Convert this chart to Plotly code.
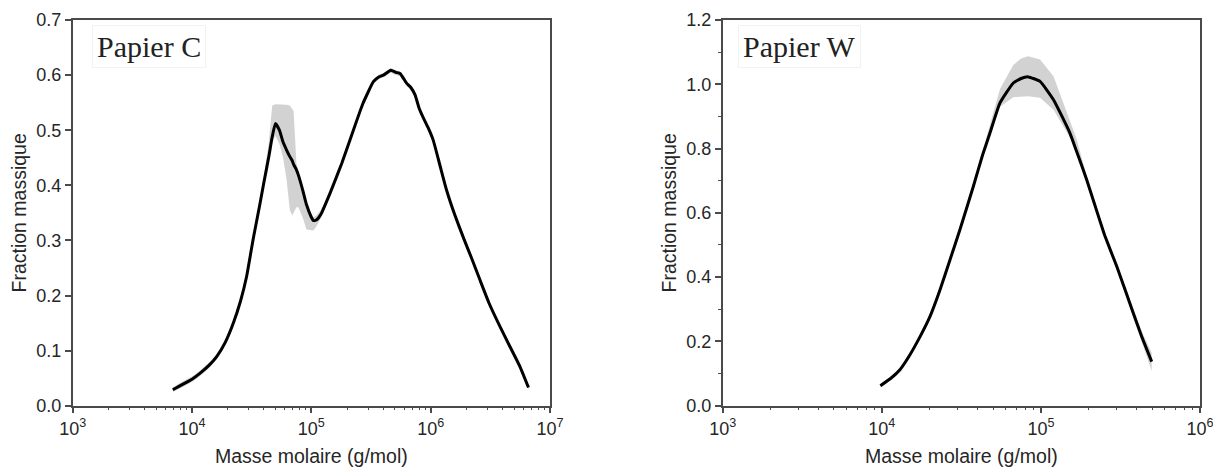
import plotly.graph_objects as go

# ---------------- Data: Papier C ----------------
M_C = [6.9e3, 7.9e3, 1.0e4, 1.17e4, 1.4e4, 1.61e4, 1.9e4, 2.22e4, 2.55e4, 2.87e4,
       3.27e4, 3.7e4, 4.0e4, 4.4e4, 4.7e4, 5.0e4, 5.4e4, 5.8e4, 6.2e4, 6.6e4,
       6.9e4, 7.1e4, 7.5e4, 7.8e4, 8.5e4, 9.1e4, 1.0e5, 1.04e5, 1.1e5, 1.2e5,
       1.43e5, 1.8e5, 2.25e5, 2.7e5, 3.31e5, 3.7e5, 4.02e5, 4.63e5, 5.1e5, 5.54e5,
       6.0e5, 6.3e5, 6.8e5, 7.4e5, 8.0e5, 8.7e5, 9.5e5, 1.05e6, 1.2e6, 1.36e6,
       1.6e6, 1.88e6, 2.2e6, 2.59e6, 3.1e6, 3.82e6, 4.5e6, 5.6e6, 6.6e6]
mean_C = [0.029, 0.036, 0.048, 0.059, 0.074, 0.089, 0.115, 0.150, 0.190, 0.235,
          0.305, 0.365, 0.405, 0.452, 0.488, 0.512, 0.500, 0.478, 0.464, 0.452,
          0.445, 0.438, 0.428, 0.418, 0.390, 0.365, 0.342, 0.336, 0.337, 0.347,
          0.385, 0.440, 0.500, 0.548, 0.588, 0.597, 0.600, 0.609, 0.605, 0.603,
          0.592, 0.585, 0.578, 0.564, 0.540, 0.522, 0.505, 0.482, 0.435, 0.391,
          0.345, 0.305, 0.268, 0.228, 0.185, 0.143, 0.112, 0.071, 0.033]
lo_C = [0.025, 0.031, 0.043, 0.054, 0.069, 0.084, 0.110, 0.145, 0.185, 0.230,
        0.298, 0.358, 0.395, 0.442, 0.478, 0.490, 0.475, 0.450, 0.410, 0.355,
        0.345, 0.350, 0.360, 0.360, 0.340, 0.320, 0.318, 0.318, 0.325, 0.340,
        0.381, 0.436, 0.496, 0.544, 0.584, 0.593, 0.596, 0.604, 0.600, 0.598,
        0.587, 0.580, 0.573, 0.559, 0.535, 0.517, 0.500, 0.477, 0.430, 0.386,
        0.340, 0.300, 0.263, 0.223, 0.180, 0.138, 0.107, 0.066, 0.029]
hi_C = [0.033, 0.041, 0.053, 0.064, 0.079, 0.094, 0.120, 0.155, 0.195, 0.240,
        0.312, 0.373, 0.415, 0.478, 0.545, 0.547, 0.547, 0.547, 0.546, 0.545,
        0.540, 0.535, 0.440, 0.425, 0.395, 0.370, 0.346, 0.342, 0.345, 0.355,
        0.389, 0.444, 0.504, 0.552, 0.592, 0.601, 0.604, 0.613, 0.609, 0.607,
        0.596, 0.589, 0.582, 0.568, 0.544, 0.526, 0.509, 0.486, 0.439, 0.395,
        0.349, 0.309, 0.272, 0.232, 0.189, 0.147, 0.116, 0.075, 0.037]

# ---------------- Data: Papier W ----------------
M_W = [9.8e3, 1.15e4, 1.3e4, 1.5e4, 1.74e4, 2.01e4, 2.32e4, 2.7e4, 3.1e4, 3.76e4,
       4.3e4, 4.79e4, 5.53e4, 6.71e4, 7.5e4, 8.34e4, 9.87e4, 1.2e5, 1.52e5, 1.68e5,
       1.94e5, 2.35e5, 2.53e5, 3.0e5, 3.81e5, 4.3e5, 4.97e5]
mean_W = [0.062, 0.087, 0.112, 0.158, 0.215, 0.278, 0.360, 0.458, 0.548, 0.682,
          0.780, 0.849, 0.942, 1.004, 1.018, 1.023, 1.009, 0.952, 0.849, 0.790,
          0.703, 0.575, 0.527, 0.433, 0.288, 0.215, 0.137]
lo_W = [0.057, 0.082, 0.107, 0.153, 0.210, 0.273, 0.355, 0.453, 0.543, 0.676,
        0.774, 0.843, 0.930, 0.960, 0.962, 0.963, 0.958, 0.921, 0.835, 0.783,
        0.695, 0.568, 0.519, 0.424, 0.275, 0.195, 0.108]
hi_W = [0.067, 0.092, 0.117, 0.163, 0.220, 0.283, 0.365, 0.463, 0.553, 0.688,
        0.790, 0.870, 0.985, 1.060, 1.080, 1.087, 1.077, 1.025, 0.890, 0.828,
        0.715, 0.582, 0.535, 0.442, 0.300, 0.232, 0.165]

panel_titles = ["Papier C", "Papier W"]
x_title = "Masse molaire (g/mol)"
y_title = "Fraction massique"

x_ticks_C = [1e3, 1e4, 1e5, 1e6, 1e7]
x_ticks_W = [1e3, 1e4, 1e5, 1e6]
x_text_C = ["10<sup>3</sup>", "10<sup>4</sup>", "10<sup>5</sup>", "10<sup>6</sup>", "10<sup>7</sup>"]
x_text_W = ["10<sup>3</sup>", "10<sup>4</sup>", "10<sup>5</sup>", "10<sup>6</sup>"]

BAND = "#d2d2d2"
AX = "#4a4a4a"
TXT = "#262626"

fig = go.Figure()

def add_panel(M, mean, lo, hi, xa, ya):
    fig.add_trace(go.Scatter(x=M, y=hi, mode="lines", line=dict(width=0, color=BAND),
                             xaxis=xa, yaxis=ya, showlegend=False, hoverinfo="skip"))
    fig.add_trace(go.Scatter(x=M, y=lo, mode="lines", line=dict(width=0, color=BAND),
                             fill="tonexty", fillcolor=BAND,
                             xaxis=xa, yaxis=ya, showlegend=False, hoverinfo="skip"))
    fig.add_trace(go.Scatter(x=M, y=mean, mode="lines",
                             line=dict(color="black", width=3, shape="spline", smoothing=0.4),
                             xaxis=xa, yaxis=ya, showlegend=False))

add_panel(M_C, mean_C, lo_C, hi_C, "x", "y")
add_panel(M_W, mean_W, lo_W, hi_W, "x2", "y2")

def minor_vals(d0, d1):
    return [m * 10 ** d for d in range(d0, d1) for m in range(2, 10)]

font_ax = dict(family="Liberation Sans, Arial, sans-serif", size=18, color=TXT)
font_title = dict(family="Liberation Sans, Arial, sans-serif", size=19.5, color=TXT)

common_x = dict(type="log", showline=True, linecolor=AX, linewidth=1.5, mirror=True,
                ticks="outside", ticklen=6, tickwidth=1.5, tickcolor=AX, automargin=False,
                ticklabeloverflow="allow",
                showgrid=False, zeroline=False, tickfont=font_ax,
                title=dict(text=x_title, font=font_title, standoff=11))
common_y = dict(showline=True, linecolor=AX, linewidth=1.5, mirror=True,
                ticks="outside", ticklen=6, tickwidth=1.5, tickcolor=AX, automargin=False,
                ticklabeloverflow="allow",
                showgrid=False, zeroline=False, tickfont=font_ax, tickformat=".1f",
                title=dict(text=y_title, font=font_title, standoff=4))

y_dom = [1 - 405.7 / 470, 1 - 20 / 470]

fig.update_layout(
    width=1213, height=470,
    margin=dict(l=0, r=0, t=0, b=0),
    paper_bgcolor="white", plot_bgcolor="white",
    xaxis=dict(common_x, domain=[72.7 / 1213, 550 / 1213], range=[3, 7],
               tickmode="array", tickvals=x_ticks_C, ticktext=x_text_C,
               minor=dict(ticks="outside", ticklen=3, tickwidth=1.2, tickcolor=AX,
                          tickmode="array", tickvals=minor_vals(3, 7))),
    yaxis=dict(common_y, domain=y_dom, range=[0, 0.7], dtick=0.1, anchor="x"),
    xaxis2=dict(common_x, domain=[722.7 / 1213, 1200 / 1213], range=[3, 6],
                tickmode="array", tickvals=x_ticks_W, ticktext=x_text_W, anchor="y2",
                minor=dict(ticks="outside", ticklen=3, tickwidth=1.2, tickcolor=AX,
                           tickmode="array", tickvals=minor_vals(3, 6))),
    yaxis2=dict(common_y, domain=y_dom, range=[0, 1.2], dtick=0.2, anchor="x2",
                minor=dict(ticks="outside", ticklen=3, tickwidth=1.2, tickcolor=AX, dtick=0.1)),
)

for xa, ya, title, xpos in [("x", "y", panel_titles[0], 0.040), ("x2", "y2", panel_titles[1], 0.032)]:
    fig.add_annotation(text=title, xref=f"{xa} domain", yref=f"{ya} domain",
                       x=xpos, y=0.930, xanchor="left", yanchor="middle", showarrow=False,
                       font=dict(family="Liberation Serif, Times New Roman, serif", size=30, color="#222"),
                       bordercolor="#f2f2f2", borderwidth=1, borderpad=4, bgcolor="white")

fig.write_html("out.html", config={"displayModeBar": False},
               post_script="document.body.style.margin='0px';")
